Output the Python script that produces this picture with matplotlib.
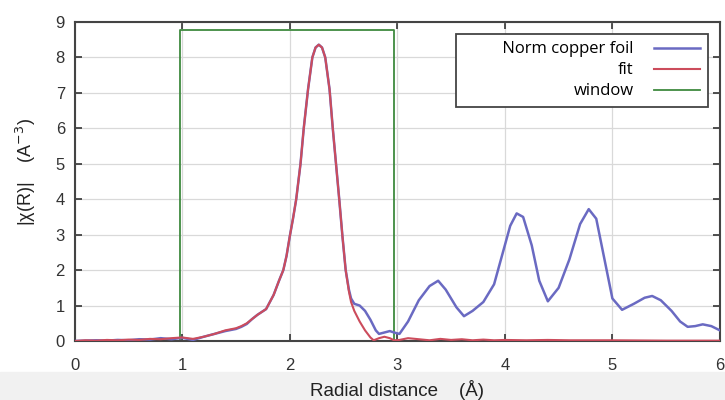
import matplotlib
matplotlib.use("Agg")
import matplotlib.pyplot as plt
from matplotlib.patches import Rectangle

# datos
r_foil = [0.0, 0.1, 0.2, 0.3, 0.4, 0.5, 0.6, 0.7, 0.8, 0.9, 1.0, 1.1, 1.2, 1.3, 1.4,
          1.5, 1.55, 1.6, 1.65, 1.7, 1.78, 1.85, 1.9, 1.94, 1.97, 2.0, 2.03, 2.06,
          2.1, 2.13, 2.17, 2.21, 2.24, 2.27, 2.3, 2.33, 2.37, 2.4, 2.43, 2.46, 2.49,
          2.52, 2.55, 2.57, 2.6, 2.65, 2.7, 2.75, 2.8, 2.83, 2.88,
          2.93, 2.97, 3.02, 3.1, 3.2, 3.3, 3.38, 3.45, 3.55, 3.62, 3.7, 3.8, 3.9,
          4.0, 4.05, 4.11, 4.17, 4.25, 4.32, 4.4, 4.5, 4.6, 4.7, 4.78, 4.85, 4.92,
          5.0, 5.09, 5.2, 5.3, 5.37, 5.45, 5.55, 5.63, 5.7, 5.77, 5.84, 5.92, 6.0]
chi_foil = [0.0, 0.01, 0.02, 0.01, 0.03, 0.02, 0.05, 0.04, 0.08, 0.05, 0.09, 0.03, 0.12,
            0.2, 0.28, 0.34, 0.4, 0.48, 0.62, 0.74, 0.9, 1.3, 1.7, 2.0, 2.4, 2.95, 3.45,
            4.0, 5.0, 6.0, 7.1, 8.0, 8.28, 8.36, 8.28, 8.0, 7.1, 6.0, 5.0, 4.0, 2.95,
            2.0, 1.45, 1.2, 1.05, 1.0, 0.85, 0.6, 0.3, 0.2,
            0.24, 0.28, 0.24, 0.2, 0.55, 1.15, 1.55, 1.7, 1.45, 0.95, 0.7, 0.85,
            1.1, 1.6, 2.7, 3.25, 3.6, 3.5, 2.7, 1.7, 1.12, 1.5, 2.3, 3.3, 3.72, 3.45,
            2.4, 1.2, 0.88, 1.05, 1.22, 1.27, 1.15, 0.85, 0.55, 0.4, 0.42, 0.47, 0.42, 0.3]

r_fit = [0.0, 0.1, 0.2, 0.3, 0.4, 0.5, 0.6, 0.7, 0.8, 0.9, 1.0, 1.1, 1.2, 1.3, 1.4,
         1.5, 1.55, 1.6, 1.65, 1.7, 1.78, 1.85, 1.9, 1.94, 1.97, 2.0, 2.03, 2.06,
         2.1, 2.13, 2.17, 2.21, 2.24, 2.27, 2.3, 2.33, 2.37, 2.4, 2.43, 2.46, 2.49,
         2.52, 2.55, 2.57, 2.6, 2.65, 2.7, 2.75, 2.78, 2.83, 2.88,
         2.93, 2.97, 3.02, 3.1, 3.2, 3.3, 3.4, 3.5, 3.6, 3.7, 3.8, 3.9, 4.0, 4.2,
         4.4, 4.6, 4.8, 5.0, 5.5, 6.0]
chi_fit = [0.0, 0.02, 0.01, 0.03, 0.02, 0.04, 0.03, 0.06, 0.05, 0.08, 0.1, 0.06, 0.12,
           0.2, 0.3, 0.36, 0.42, 0.5, 0.62, 0.74, 0.9, 1.3, 1.7, 2.0, 2.4, 2.95, 3.45,
           4.0, 5.0, 6.0, 7.1, 8.0, 8.28, 8.36, 8.28, 8.0, 7.1, 6.0, 5.0, 4.0, 2.95,
           2.0, 1.4, 1.1, 0.85, 0.55, 0.3, 0.1, 0.02, 0.08,
           0.12, 0.08, 0.02, 0.03, 0.08, 0.05, 0.02, 0.06, 0.03, 0.05, 0.02, 0.04,
           0.02, 0.03, 0.02, 0.03, 0.02, 0.02, 0.02, 0.01, 0.01]

r_window = [0.0, 0.98, 0.98, 2.97, 2.97, 6.0]
w_window = [0.0, 0.0, 8.78, 8.78, 0.0, 0.0]

plt.rcParams['font.family'] = ['Liberation Sans', 'DejaVu Sans']

fig = plt.figure(figsize=(7.25, 4), dpi=100)
fig.patches.append(Rectangle((0, 0), 1, 0.07, transform=fig.transFigure,
                             color='#f1f1f1', zorder=-1))
ax = fig.add_axes([0.103, 0.1475, 0.89, 0.7975])

ax.plot(r_window, w_window, color='#3f8a3f', lw=1.3, label='window', zorder=2)
ax.plot(r_foil, chi_foil, color='#6a6ac2', lw=1.8, label='Norm copper foil', zorder=3)
ax.plot(r_fit, chi_fit, color='#cc4c5c', lw=1.5, label='fit', zorder=4)

ax.set_xlim(0, 6)
ax.set_ylim(0, 9)
ax.set_xticks(range(0, 7))
ax.set_yticks(range(0, 10))
ax.grid(True, color='#d9d9d9', lw=0.9)
ax.tick_params(direction='in', top=True, right=True, length=5, width=1.2,
               color='#333333', labelsize=12, labelcolor='#333333')
ax.tick_params(axis='x', pad=12)
ax.tick_params(axis='y', pad=7)
for s in ax.spines.values():
    s.set_color('#444444')
    s.set_linewidth(1.5)

ax.set_xlabel('Radial distance    (Å)', fontsize=13.5, color='#222222', labelpad=5)
ax.set_ylabel('|χ(R)|    (A$^{-3}$)', fontsize=13, color='#222222')
ax.yaxis.set_label_coords(-0.057, 0.53)

h, l = ax.get_legend_handles_labels()
order = [1, 2, 0]
leg = ax.legend([h[i] for i in order], [l[i] for i in order], loc='upper right',
                bbox_to_anchor=(0.994, 0.989), markerfirst=False, fancybox=False,
                prop={'family': 'Open Sans', 'size': 12}, handlelength=2.8,
                handletextpad=1.2, borderpad=0.45, labelspacing=0.3, framealpha=1)
leg.get_frame().set_edgecolor('#444444')
leg.get_frame().set_linewidth(1.3)
for t in leg.get_texts():
    t.set_ha('right')
# margen izquierdo del recuadro como en la imagen
leg.get_texts()[0].set_text('         Norm copper foil')

fig.savefig('out.png', dpi=100)
